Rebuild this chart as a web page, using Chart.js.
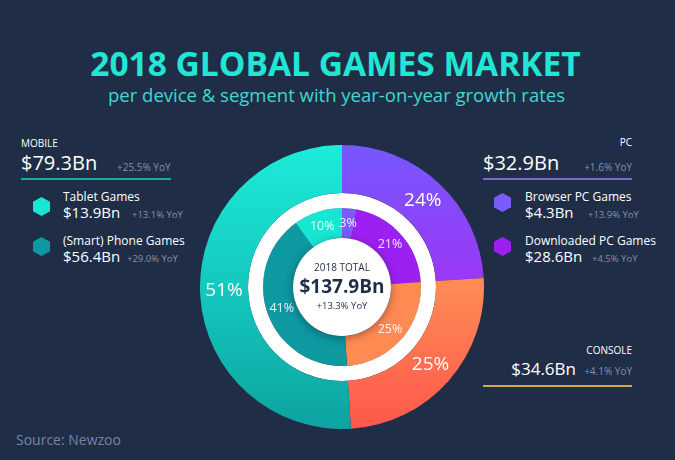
<!DOCTYPE html>
<html>
<head>
<meta charset="utf-8">
<script src="https://cdn.jsdelivr.net/npm/chart.js@4.4.0/dist/chart.umd.min.js"></script>
<style>
body { margin: 0; width: 675px; height: 460px; background: #1f2d47; font-family: 'Open Sans', sans-serif; color: #fff; position: relative; overflow: hidden; }
.t { position: absolute; white-space: nowrap; line-height: 1; }
.yoy { color: #8592aa; font-size: 10px; }
.hex { position: absolute; width: 17px; height: 19px; clip-path: polygon(50% 0, 100% 25%, 100% 75%, 50% 100%, 0 75%, 0 25%); }
.line { position: absolute; height: 2px; }
#chartBox { position: absolute; left: 200px; top: 145px; width: 284px; height: 284px; }
.center { position: absolute; left: 292px; width: 100px; text-align: center; color: #1f2d47; z-index: 2; }
</style>
</head>
<body>
<div class="t" style="left:0;width:671px;text-align:center;top:47px;font-size:33.5px;font-weight:700;color:#22e6d4;">2018 GLOBAL GAMES MARKET</div>
<div class="t" style="left:0;width:673px;text-align:center;top:86px;font-size:18.5px;color:#3fd8cf;">per device &amp; segment with year-on-year growth rates</div>

<!-- mobile panel -->
<div class="t" style="left:21px;top:138px;font-size:10px;">MOBILE</div>
<div class="t" id="segRev2" style="left:21px;top:153px;font-size:20px;"></div>
<div class="t yoy" id="segYoy2" style="left:117px;top:162px;"></div>
<div class="line" style="left:21px;top:178px;width:150px;background:#1aa9a6;"></div>
<div class="hex" style="left:33px;top:197px;background:#17e6d2;"></div>
<div class="t" id="subName4" style="left:63px;top:191px;font-size:12px;"></div>
<div class="t" id="subRev4" style="left:63px;top:205px;font-size:15px;"></div>
<div class="t yoy" id="subYoy4" style="left:132px;top:210px;font-size:9.5px;"></div>
<div class="hex" style="left:33px;top:237px;background:#0e99a0;"></div>
<div class="t" id="subName3" style="left:63px;top:235px;font-size:12px;"></div>
<div class="t" id="subRev3" style="left:63px;top:249px;font-size:15px;"></div>
<div class="t yoy" id="subYoy3" style="left:127px;top:254px;font-size:9.5px;"></div>

<!-- pc panel -->
<div class="t" style="right:43px;top:137px;font-size:10px;">PC</div>
<div class="t" id="segRev0" style="left:483px;top:153px;font-size:20px;"></div>
<div class="t yoy" id="segYoy0" style="right:43px;top:162px;"></div>
<div class="line" style="left:483px;top:178px;width:149px;background:#7c6ac6;"></div>
<div class="hex" style="left:494px;top:193px;background:#7a5cfb;"></div>
<div class="t" id="subName0" style="left:525px;top:191px;font-size:12px;"></div>
<div class="t" id="subRev0" style="left:525px;top:205px;font-size:15px;"></div>
<div class="t yoy" id="subYoy0" style="left:588px;top:210px;font-size:9.5px;"></div>
<div class="hex" style="left:494px;top:237px;background:#9d20f2;"></div>
<div class="t" id="subName1" style="left:525px;top:235px;font-size:12px;"></div>
<div class="t" id="subRev1" style="left:525px;top:249px;font-size:15px;"></div>
<div class="t yoy" id="subYoy1" style="left:592px;top:254px;font-size:9.5px;"></div>

<!-- console panel -->
<div class="t" style="right:43px;top:345px;font-size:10px;">CONSOLE</div>
<div class="t" id="segRev1" style="right:99px;top:360px;font-size:17px;"></div>
<div class="t yoy" id="segYoy1" style="right:43px;top:366px;"></div>
<div class="line" style="left:483px;top:385px;width:149px;background:#d8a54b;"></div>

<div class="t" style="left:16px;top:433px;font-size:14px;color:#7386a3;">Source: Newzoo</div>

<div id="chartBox"><canvas id="gamesChart"></canvas></div>
<div class="t center" style="top:262px;font-size:10px;">2018 TOTAL</div>
<div class="t center" id="total" style="top:277px;font-size:19px;font-weight:700;"></div>
<div class="t center" id="totalYoy" style="top:301px;font-size:9.5px;"></div>

<script>
// segments: PC, Console, Mobile
const segmentLabels = ['PC', 'Console', 'Mobile'];
const segmentShares = [24, 25, 51];
const segmentRevenue = ['$32.9Bn', '$34.6Bn', '$79.3Bn'];
const segmentGrowth = ['+1.6% YoY', '+4.1% YoY', '+25.5% YoY'];

const subLabels = ['Browser PC Games', 'Downloaded PC Games', 'Console', '(Smart) Phone Games', 'Tablet Games'];
const subShares = [3, 21, 25, 41, 10];
const subRevenue = ['$4.3Bn', '$28.6Bn', '$34.6Bn', '$56.4Bn', '$13.9Bn'];
const subGrowth = ['+13.9% YoY', '+4.5% YoY', '+4.1% YoY', '+29.0% YoY', '+13.1% YoY'];

const totalRevenue = '$137.9Bn';
const totalGrowth = '+13.3% YoY';

for (let i = 0; i < segmentLabels.length; i++) {
    document.getElementById('segRev' + i).textContent = segmentRevenue[i];
    document.getElementById('segYoy' + i).textContent = segmentGrowth[i];
}
[0, 1, 3, 4].forEach(function(i) {
    document.getElementById('subName' + i).textContent = subLabels[i];
    document.getElementById('subRev' + i).textContent = subRevenue[i];
    document.getElementById('subYoy' + i).textContent = subGrowth[i];
});
document.getElementById('total').textContent = totalRevenue;
document.getElementById('totalYoy').textContent = totalGrowth;

// gradient stops for the outer ring, top -> bottom of the chart
const outerStops = [
    [[0, '#7658fd'], [0.5, '#9d36f6'], [1, '#9d36f6']],
    [[0, '#ff9058'], [0.5, '#ff8a55'], [1, '#ff574b']],
    [[0, '#1decd9'], [0.5, '#14c8bd'], [1, '#0da3a0']]
];
const innerColors = ['#7a5cfb', '#9d20f2', '#ff8a52', '#0e98a0', '#17e6d2'];

const ringDecor = {
    id: 'ringDecor',
    afterDatasetsDraw(chart) {
        var ctx = chart.ctx;
        var arc = chart.getDatasetMeta(2).data[0];
        ctx.save();
        ctx.shadowColor = 'rgba(0, 0, 0, 0.35)';
        ctx.shadowBlur = 8;
        ctx.shadowOffsetY = 2;
        ctx.fillStyle = '#ffffff';
        ctx.beginPath();
        ctx.arc(arc.x, arc.y, arc.innerRadius, 0, Math.PI * 2);
        ctx.fill();
        ctx.restore();

        ctx.save();
        ctx.textAlign = 'center';
        ctx.textBaseline = 'middle';
        [[0, segmentShares, 19], [2, subShares, 12.5]].forEach(function(cfg) {
            var meta = chart.getDatasetMeta(cfg[0]);
            ctx.font = cfg[2] + 'px "Open Sans"';
            ctx.fillStyle = cfg[0] === 0 ? '#ffffff' : 'rgba(255,255,255,0.9)';
            meta.data.forEach(function(el, i) {
                var p = el.tooltipPosition();
                ctx.fillText(cfg[1][i] + '%', p.x, p.y);
            });
        });
        ctx.restore();
    }
};

var ctx = document.getElementById('gamesChart').getContext('2d');
var chart = new Chart(ctx, {
    type: 'doughnut',
    data: {
        labels: segmentLabels,
        datasets: [
            {
                label: 'Segment',
                data: segmentShares,
                weight: 48,
                backgroundColor: function(c) {
                    var area = c.chart.chartArea;
                    var stops = outerStops[c.dataIndex];
                    if (!area) return stops[0][1];
                    var g = c.chart.ctx.createLinearGradient(0, area.top, 0, area.bottom);
                    stops.forEach(function(s) { g.addColorStop(s[0], s[1]); });
                    return g;
                }
            },
            {
                label: 'gap',
                data: [1],
                weight: 15,
                backgroundColor: '#ffffff'
            },
            {
                label: 'Sub-segment',
                data: subShares,
                weight: 30,
                backgroundColor: innerColors
            }
        ]
    },
    options: {
        responsive: true,
        maintainAspectRatio: false,
        animation: false,
        events: [],
        cutout: '34.5%',
        borderWidth: 0,
        layout: { padding: 0 },
        plugins: {
            legend: { display: false },
            tooltip: { enabled: false }
        }
    },
    plugins: [ringDecor]
});
</script>
</body>
</html>
